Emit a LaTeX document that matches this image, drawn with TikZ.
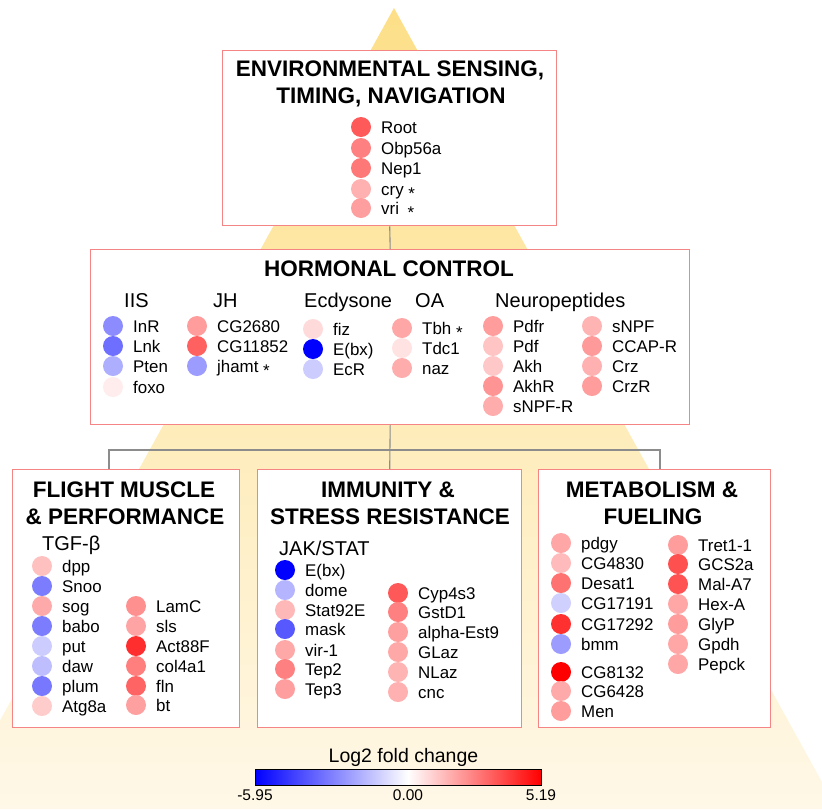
\documentclass[tikz,border=0pt]{standalone}
\usepackage{fontspec}
\setmainfont{Liberation Sans}
\usetikzlibrary{calc}
\definecolor{boxred}{HTML}{F58585}
\definecolor{connc}{HTML}{8C8C8C}
\definecolor{triTop}{HTML}{FDDF88}
\definecolor{triBot}{HTML}{FFF8E8}
\tikzset{
 boxst/.style={draw=boxred, line width=1.4pt, fill=white, inner sep=0pt, anchor=north west},
 ttl/.style={font=\fontsize{22.5}{27}\selectfont\bfseries, anchor=base, inner sep=0pt},
 grp/.style={font=\fontsize{20}{24}\selectfont, anchor=base west, inner sep=0pt},
 gdotst/.style={circle, inner sep=0pt, minimum size=20pt, draw=none},
 glbl/.style={font=\fontsize{16.9}{20}\selectfont, anchor=base west, inner sep=0pt},
 conn/.style={draw=connc, line width=1.1pt},
 cblbl/.style={font=\fontsize{15.5}{18}\selectfont, anchor=base, inner sep=0pt},
}
\newcommand{\genenode}[5]{%
  \definecolor{gc#1}{HTML}{#4}%
  \node[gdotst, fill=gc#1] (#1dot) at (#2,#3) {};
  \node[glbl] (#1) at (#2+20,#3+6) {#5};
}
\newcommand{\astk}{\raisebox{-4pt}{*}}
\begin{document}
\begin{tikzpicture}[x=1pt,y=-1pt]
\useasboundingbox (0,0) rectangle (822,809);
\begin{scope}
\clip (0,0) rectangle (822,809);
\shade[top color=triTop, bottom color=triBot] (394,8) -- (837,809) -- (-49,809) -- cycle;
\end{scope}

% boxes
\node[boxst, minimum width=334pt, minimum height=175pt] (envbox) at (222,50) {};
\node[boxst, minimum width=599pt, minimum height=175pt] (hormbox) at (90,249) {};
\node[boxst, minimum width=227pt, minimum height=258pt] (flightbox) at (12,469) {};
\node[boxst, minimum width=264pt, minimum height=258pt] (immbox) at (257,469) {};
\node[boxst, minimum width=232pt, minimum height=258pt] (metabox) at (538,469) {};

% connectors
\coordinate (jl) at (109,450);
\coordinate (jr) at (660,450);
\draw[conn] (envbox.south) -- (hormbox.north);
\draw[conn] (hormbox.south) -- (immbox.north);
\draw[conn] (jl |- flightbox.north) -- (jl) -- (jr) -- (jr |- metabox.north);

% titles
\node[ttl] (envT1) at (390,76) {ENVIRONMENTAL SENSING,};
\node[ttl] (envT2) at (391,103) {TIMING, NAVIGATION};
\node[ttl] (hormT) at (389,276) {HORMONAL CONTROL};
\node[ttl] (flT1) at (124,497) {FLIGHT MUSCLE};
\node[ttl] (flT2) at (125,524) {\& PERFORMANCE};
\node[ttl] (imT1) at (388,497) {IMMUNITY \&};
\node[ttl] (imT2) at (390,524) {STRESS RESISTANCE};
\node[ttl] (meT1) at (652,497) {METABOLISM \&};
\node[ttl] (meT2) at (653,524) {FUELING};

% group headers
\node[grp] (gIIS) at (124,307) {IIS};
\node[grp] (gJH) at (213,307) {JH};
\node[grp] (gEcd) at (304,307) {Ecdysone};
\node[grp] (gOA) at (415,307) {OA};
\node[grp] (gNP) at (495,307) {Neuropeptides};
\node[grp] (gTGF) at (42,550) {TGF-β};
\node[grp] (gJAK) at (279,555) {JAK/STAT};

% environmental sensing
\genenode{root}{361}{127}{FF5A5A}{Root}
\genenode{obp}{361}{148}{FF8080}{Obp56a}
\genenode{nep}{361}{168}{FF7878}{Nep1}
\genenode{cry}{361}{189}{FFB0B0}{cry \astk}
\genenode{vri}{361}{208}{FF9E9E}{vri\hspace{4pt} \astk}

% hormonal control
\genenode{inr}{113}{326}{8C8CFF}{InR}
\genenode{lnk}{113}{346}{6E6EFF}{Lnk}
\genenode{pten}{113}{366}{AEAEFF}{Pten}
\genenode{foxo}{113}{387}{FFECEC}{foxo}
\genenode{cgA}{197}{326}{FF9C9C}{CG2680}
\genenode{cgB}{197}{346}{FF6060}{CG11852}
\genenode{jhamt}{197}{366}{9C9CFF}{jhamt \astk}
\genenode{fiz}{313}{329}{FFDADA}{fiz}
\genenode{ebxH}{313}{349}{0000FF}{E(bx)}
\genenode{ecr}{313}{369}{CCCCFF}{EcR}
\genenode{tbh}{402}{328}{FFA6A6}{Tbh \astk}
\genenode{tdc}{402}{348}{FFE2E2}{Tdc1}
\genenode{naz}{402}{368}{FFACAC}{naz}
\genenode{pdfr}{493}{326}{FF9C9C}{Pdfr}
\genenode{pdf}{493}{346}{FFC4C4}{Pdf}
\genenode{akh}{493}{366}{FFC8C8}{Akh}
\genenode{akhr}{493}{386}{FF9494}{AkhR}
\genenode{snpfr}{493}{406}{FFACAC}{sNPF-R}
\genenode{snpf}{592}{326}{FFB4B4}{sNPF}
\genenode{ccapr}{592}{346}{FF9A9A}{CCAP-R}
\genenode{crz}{592}{366}{FFB0B0}{Crz}
\genenode{crzr}{592}{386}{FF9C9C}{CrzR}

% flight muscle
\genenode{dpp}{42}{566}{FFC0C0}{dpp}
\genenode{snoo}{42}{586}{7C7CFF}{Snoo}
\genenode{sog}{42}{606}{FFAAAA}{sog}
\genenode{babo}{42}{626}{7C7CFF}{babo}
\genenode{put}{42}{646}{CCCCFF}{put}
\genenode{daw}{42}{666}{BEBEFF}{daw}
\genenode{plum}{42}{686}{7878FF}{plum}
\genenode{atg}{42}{706}{FFCCCC}{Atg8a}
\genenode{lamc}{136}{606}{FF9090}{LamC}
\genenode{sls}{136}{626}{FFA4A4}{sls}
\genenode{act}{136}{646}{FF2E2E}{Act88F}
\genenode{col}{136}{666}{FF7E7E}{col4a1}
\genenode{fln}{136}{686}{FF6464}{fln}
\genenode{bt}{136}{705}{FFA0A0}{bt}

% immunity
\genenode{ebxI}{285}{570}{0000FF}{E(bx)}
\genenode{dome}{285}{590}{B4B4FF}{dome}
\genenode{stat}{285}{610}{FFB8B8}{Stat92E}
\genenode{mask}{285}{629}{5858FF}{mask}
\genenode{vir}{285}{650}{FFA8A8}{vir-1}
\genenode{tepB}{285}{669}{FF8080}{Tep2}
\genenode{tepC}{285}{689}{FF9E9E}{Tep3}
\genenode{cyp}{398}{593}{FF5858}{Cyp4s3}
\genenode{gst}{398}{612}{FF8080}{GstD1}
\genenode{est}{398}{632}{FFA0A0}{alpha-Est9}
\genenode{glaz}{398}{652}{FFA8A8}{GLaz}
\genenode{nlaz}{398}{672}{FFB4B4}{NLaz}
\genenode{cnc}{398}{692}{FFB0B0}{cnc}

% metabolism
\genenode{pdgy}{561}{543}{FFA6A6}{pdgy}
\genenode{cgC}{561}{563}{FFBBBB}{CG4830}
\genenode{desat}{561}{583}{FF7272}{Desat1}
\genenode{cgD}{561}{603}{D0D0FF}{CG17191}
\genenode{cgE}{561}{624}{FF3030}{CG17292}
\genenode{bmm}{561}{644}{9C9CFF}{bmm}
\genenode{cgF}{561}{672}{FF0000}{CG8132}
\genenode{cgG}{561}{691}{FFAAAA}{CG6428}
\genenode{men}{561}{711}{FF9C9C}{Men}
\genenode{tret}{678}{545}{FF9C9C}{Tret1-1}
\genenode{gcs}{678}{564}{FF5050}{GCS2a}
\genenode{mal}{678}{584}{FF5252}{Mal-A7}
\genenode{hex}{678}{604}{FFA6A6}{Hex-A}
\genenode{glyp}{678}{624}{FF9C9C}{GlyP}
\genenode{gpdh}{678}{644}{FFA6A6}{Gpdh}
\genenode{pepck}{678}{664}{FFA6A6}{Pepck}

% colour bar
\shade[left color=blue, right color=white] (255,769) rectangle (408,785);
\shade[left color=white, right color=red] (408,769) rectangle (541,785);
\node[draw=black, line width=0.8pt, minimum width=286pt, minimum height=16pt, inner sep=0pt, anchor=north west] (cbar) at (255,769) {};
\node[font=\fontsize{19.5}{22}\selectfont, anchor=base, inner sep=0pt] (cbT) at (403.5,762.5) {Log2 fold change};
\node[cblbl] (cbMin) at (255,800) {-5.95};
\node[cblbl] (cbMid) at (408,800) {0.00};
\node[cblbl] (cbMax) at (541,800) {5.19};
\end{tikzpicture}
\end{document}
